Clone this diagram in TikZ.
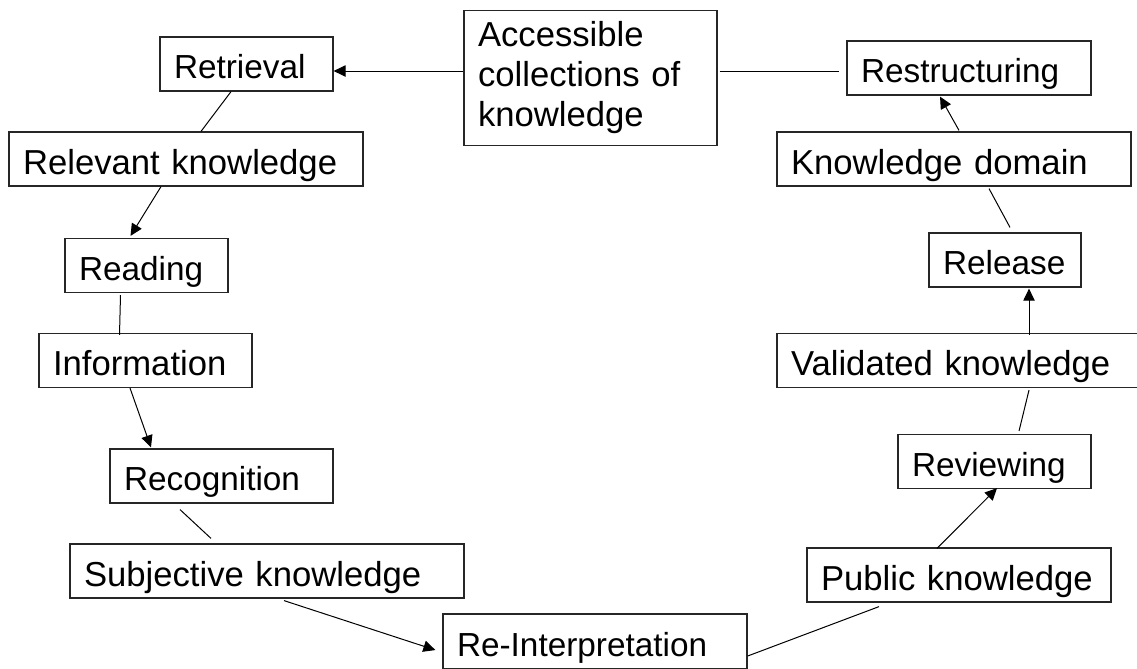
\documentclass[tikz,border=0pt]{standalone}
\usepackage{fontspec}
\setmainfont{Liberation Sans}
\usetikzlibrary{arrows.meta}
\tikzstyle{stageBox}=[shape = rectangle, draw = black!85, line width = 0.9pt, align = left, inner xsep = 10.5pt, inner ysep = 0pt, minimum height = 40.5pt, text height = 22pt, text depth = 0pt, font = \fontsize{25}{30}\selectfont]
\tikzstyle{knowBox}=[stageBox, text height = 22.5pt, font = \fontsize{26}{30}\selectfont]
\tikzstyle{plainLine}=[line width = 0.75pt]
\tikzstyle{arrowLine}=[line width = 0.75pt, -{Triangle[length = 9pt, width = 8.5pt]}]

\begin{document}
\begin{tikzpicture}[x = 0.75pt, y = -0.75pt]
\useasboundingbox (0,0) rectangle (1137,668);
% stages of the cycle
\node[stageBox, text width = 108.75pt] (retr) at (246.5,64) {Retrieval};
\node[stageBox, text width = 101.25pt] (read) at (146.5,265.5) {Reading};
\node[stageBox, text width = 146.25pt] (recog) at (221.5,476) {Recognition};
\node[stageBox, text width = 207pt, minimum height = 41.25pt] (reint) at (595,641.5) {Re-Interpretation};
\node[stageBox, text width = 123.75pt] (review) at (994.5,461.5) {Reviewing};
\node[stageBox, text width = 93pt] (rels) at (1005,260) {Release};
\node[stageBox, text width = 162pt] (restr) at (969,68) {Restructuring};
% kinds of knowledge
\node[knowBox, text width = 168.75pt, minimum height = 101pt, text height = , text depth = ] (acc) at (590.5,78)
  {Accessible\\collections of\\knowledge};
\node[knowBox, text width = 244.5pt] (relev) at (186,159) {Relevant knowledge};
\node[knowBox, text width = 138.75pt] (info) at (145.5,360.5) {Information};
\node[knowBox, text width = 274.5pt] (subj) at (267,571) {Subjective knowledge};
\node[knowBox, text width = 207pt] (pub) at (959,575) {Public knowledge};
\node[knowBox, text width = 256.5pt] (valid) at (962,360.5) {Validated knowledge};
\node[knowBox, text width = 244.5pt] (kdom) at (954,159) {Knowledge domain};
% connectors
\draw[arrowLine] ([yshift = 5.25pt]acc.west) -- ([yshift = -5.25pt]retr.east);
\draw[plainLine] ([xshift = 1.5pt, yshift = 5.25pt]acc.east) -- ([xshift = -5.25pt, yshift = -2.25pt]restr.west);
\draw[plainLine] ([xshift = -11.6pt]retr.south) -- ([xshift = 11.25pt]relev.north);
\draw[arrowLine] ([xshift = -18.75pt]relev.south) -- ([xshift = -12pt, yshift = 1.5pt]read.north);
\draw[plainLine] ([xshift = -19.5pt, yshift = -1.5pt]read.south) -- ([xshift = -19.5pt, yshift = -1.5pt]info.north);
\draw[arrowLine] ([xshift = -11.6pt]info.south) -- ([xshift = -52.9pt, yshift = 0.75pt]recog.north);
\draw[plainLine] ([xshift = -31.1pt, yshift = -4.5pt]recog.south) -- ([xshift = -42pt, yshift = 3.75pt]subj.north);
\draw[arrowLine] ([xshift = 12.75pt, yshift = -1.5pt]subj.south) -- ([xshift = -5.25pt, yshift = -6.4pt]reint.west);
\draw[plainLine] ([yshift = -10.9pt]reint.east) -- ([xshift = -60pt, yshift = -3pt]pub.south);
\draw[arrowLine] ([xshift = -16.5pt, yshift = -0.75pt]pub.north) -- ([xshift = 1.9pt, yshift = 0.75pt]review.south);
\draw[plainLine] ([xshift = 50.25pt, yshift = -1.5pt]valid.south) -- ([xshift = 18.4pt, yshift = 2.25pt]review.north);
\draw[arrowLine] ([xshift = 50.25pt, yshift = -1.5pt]valid.north) -- ([xshift = 18pt, yshift = -0.75pt]rels.south);
\draw[plainLine] ([xshift = 26.25pt, yshift = -1.5pt]kdom.south) -- ([xshift = 3.75pt, yshift = 3.75pt]rels.north);
\draw[arrowLine] ([xshift = 3.75pt, yshift = 0.75pt]kdom.north) -- ([xshift = -21.75pt, yshift = -0.75pt]restr.south);
\end{tikzpicture}
\end{document}
